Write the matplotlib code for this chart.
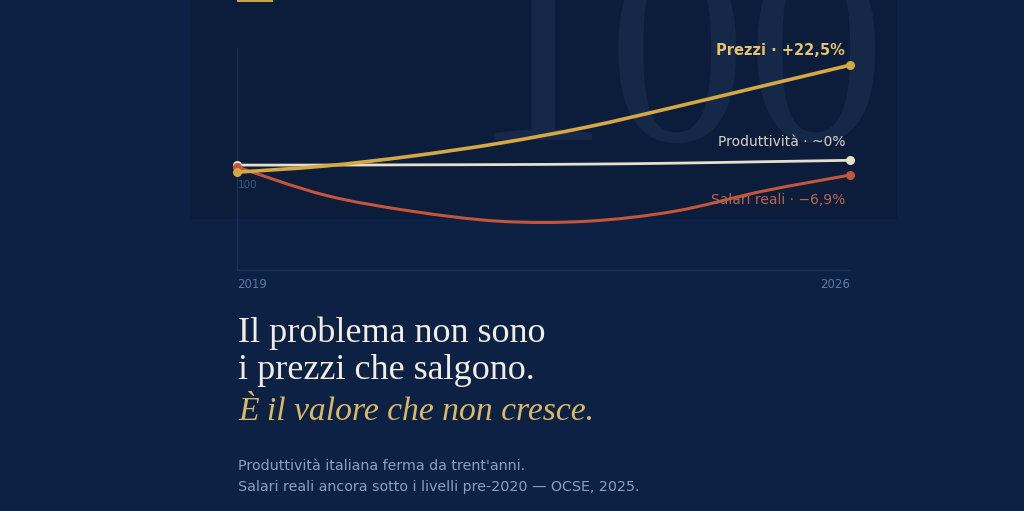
import matplotlib
matplotlib.use("Agg")
import matplotlib.pyplot as plt
import numpy as np
from matplotlib.path import Path
from matplotlib.patches import PathPatch, Rectangle

# ---- data (index) ----
years = [2019, 2020, 2021, 2022, 2023, 2024, 2025, 2026]
prezzi = [98.5, 99.8, 101.9, 104.6, 108.0, 112.2, 116.6, 121.0]
produttivita = [100.0, 100.0, 100.05, 100.1, 100.2, 100.4, 100.7, 101.0]
salari = [99.6, 93.7, 90.3, 88.2, 88.2, 90.3, 94.5, 97.9]

label_prezzi = "Prezzi · +22,5%"
label_prod = "Produttività · ~0%"
label_sal = "Salari reali · −6,9%"
x_tick_labels = ["2019", "2026"]
base_label = "100"

BG = "#0c2143"
PANEL = "#0b1d3b"
GOLD = "#d4a843"
CREAM = "#e6dfcc"
RED = "#c2553a"

W, H = 1024, 511
fig = plt.figure(figsize=(W / 100, H / 100), dpi=100, facecolor=BG)

# panel + watermark
panel = Rectangle((190 / W, 1 - 219 / H), 707 / W, 219 / H, transform=fig.transFigure,
                  facecolor=PANEL, edgecolor="none", zorder=0)
fig.patches.append(panel)
wm = fig.text(886 / W, 1 - 140 / H, "100", ha="right", va="baseline", fontsize=200,
              family="Liberation Serif", color="#152847", zorder=1)
wm.set_clip_path(panel)

# gold bar at top
fig.patches.append(Rectangle((237 / W, 1 - 2 / H), 36 / W, 3 / H, transform=fig.transFigure,
                             facecolor="#c9a449", edgecolor="none", zorder=2))

ax = fig.add_axes([237 / W, 1 - 270 / H, 613 / W, 222 / H])
ax.set_zorder(5)
ax.set_facecolor("none")
ax.set_xlim(2019, 2026)
ax.set_ylim(77.95, 124.6)
for s in ["top", "right"]:
    ax.spines[s].set_visible(False)
for s in ["left", "bottom"]:
    ax.spines[s].set_color("#1b3156")
    ax.spines[s].set_linewidth(1.0)
ax.set_yticks([])
ax.set_xticks([2019, 2026])
ax.set_xticklabels(x_tick_labels, fontsize=8.5, color="#6279a0", family="DejaVu Sans")
ax.tick_params(axis="x", length=0, pad=6)
tl = ax.get_xticklabels()
tl[0].set_ha("left")
tl[1].set_ha("right")


def smooth_path(xs, ys):
    pts = np.column_stack([xs, ys]).astype(float)
    n = len(pts)
    verts = [pts[0]]
    codes = [Path.MOVETO]
    for i in range(n - 1):
        p0 = pts[i - 1] if i > 0 else pts[i]
        p1 = pts[i]
        p2 = pts[i + 1]
        p3 = pts[i + 2] if i + 2 < n else pts[i + 1]
        c1 = p1 + (p2 - p0) / 6.0
        c2 = p2 - (p3 - p1) / 6.0
        verts += [c1, c2, p2]
        codes += [Path.CURVE4] * 3
    return Path(verts, codes)


series = [
    (produttivita, CREAM, 2.0),
    (salari, RED, 2.2),
    (prezzi, GOLD, 2.6),
]
for vals, col, lw in series:
    ax.add_patch(PathPatch(smooth_path(years, vals), facecolor="none", edgecolor=col,
                           lw=lw, capstyle="round", joinstyle="round", clip_on=False, zorder=3))
    ax.plot([years[0], years[-1]], [vals[0], vals[-1]], "o", color=col, ms=6.5,
            mec="none", clip_on=False, zorder=4)

ax.annotate(label_prezzi, (years[-1], prezzi[-1]), xytext=(-5, 15), textcoords="offset pixels",
            ha="right", va="center", fontsize=10.5, fontweight="bold", color="#e3c36e")
ax.annotate(label_prod, (years[-1], produttivita[-1]), xytext=(-5, 18), textcoords="offset pixels",
            ha="right", va="center", fontsize=10, color="#d9d2c2")
ax.annotate(label_sal, (years[-1], salari[-1]), xytext=(-5, -25), textcoords="offset pixels",
            ha="right", va="center", fontsize=10, color="#b8654f")
ax.annotate(base_label, (years[0], 100), xytext=(1, -20), textcoords="offset pixels",
            ha="left", va="center", fontsize=7.5, color="#3e5a86")

# headline text
fig.text(238 / W, 1 - 342 / H, "Il problema non sono", ha="left", va="baseline",
         fontsize=26, family="Liberation Serif", color="#f1ede4")
fig.text(238 / W, 1 - 379 / H, "i prezzi che salgono.", ha="left", va="baseline",
         fontsize=26, family="Liberation Serif", color="#f1ede4")
fig.text(238 / W, 1 - 420 / H, "È il valore che non cresce.", ha="left", va="baseline",
         fontsize=24.2, family="Liberation Serif", style="italic", color="#d9b866")

fig.text(238 / W, 1 - 470 / H, "Produttività italiana ferma da trent'anni.", ha="left",
         va="baseline", fontsize=10.3, color="#8aa0c2")
fig.text(238 / W, 1 - 491 / H, "Salari reali ancora sotto i livelli pre-2020 — OCSE, 2025.",
         ha="left", va="baseline", fontsize=10.3, color="#8aa0c2")

fig.savefig("out.png", dpi=100, facecolor=BG)
